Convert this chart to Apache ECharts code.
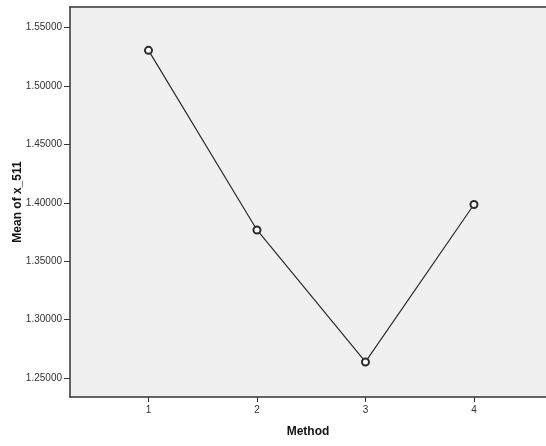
<!DOCTYPE html>
<html>
<head>
<meta charset="utf-8">
<script src="https://cdn.jsdelivr.net/npm/echarts@6/dist/echarts.min.js"></script>
<style>
  html, body { margin: 0; padding: 0; background: #fff; }
  #chart { width: 546px; height: 446px; }
</style>
</head>
<body>
<div id="chart"></div>
<script>
const methods = [1, 2, 3, 4];
const meanValues = [1.5305, 1.3767, 1.2637, 1.3985];
const yTicks = [1.25, 1.30, 1.35, 1.40, 1.45, 1.50, 1.55];

const chart = echarts.init(document.getElementById('chart'));

const axisColor = '#333333';
const labelStyle = { color: '#333', fontSize: 10, fontFamily: 'Liberation Sans, Arial, sans-serif' };
const nameStyle = { fontWeight: 'bold', fontSize: 12, color: '#111', fontFamily: 'Liberation Sans, Arial, sans-serif' };

const option = {
    animation: false,
    backgroundColor: '#ffffff',
    grid: {
        left: 70,
        top: 7,
        right: 0,
        bottom: 49,
        outerBoundsMode: 'none',
        containLabel: false,
        show: true,
        backgroundColor: '#f0f0f0',
        borderWidth: 0
    },
    xAxis: [{
        type: 'value',
        min: 0.2765,
        max: 4.664,
        name: 'Method',
        nameLocation: 'middle',
        nameGap: 29,
        nameMoveOverlap: false,
        nameTextStyle: nameStyle,
        axisLine: { lineStyle: { color: axisColor, width: 1.5 } },
        axisTick: { show: true, length: 5, customValues: methods, lineStyle: { color: axisColor } },
        axisLabel: { ...labelStyle, margin: 8, customValues: methods, formatter: v => String(v) },
        splitLine: { show: false }
    }, {
        // top frame line only
        type: 'value',
        position: 'top',
        min: 0.2765,
        max: 4.664,
        axisLine: { show: true, lineStyle: { color: axisColor, width: 1.5 } },
        axisTick: { show: false },
        axisLabel: { show: false },
        splitLine: { show: false }
    }],
    yAxis: {
        type: 'value',
        min: 1.2337,
        max: 1.5676,
        name: 'Mean of x_511',
        nameLocation: 'middle',
        nameGap: 46,
        nameMoveOverlap: false,
        nameTextStyle: nameStyle,
        axisLine: { show: true, lineStyle: { color: axisColor, width: 1.5 } },
        axisTick: { show: true, length: 6, customValues: yTicks, lineStyle: { color: axisColor } },
        axisLabel: { ...labelStyle, margin: 8, customValues: yTicks, formatter: v => v.toFixed(5) },
        splitLine: { show: false }
    },
    series: [{
        type: 'line',
        data: methods.map((m, i) => [m, meanValues[i]]),
        lineStyle: { color: '#2b2b2b', width: 1.2 },
        symbol: 'emptyCircle',
        symbolSize: 7,
        itemStyle: { color: '#2b2b2b', borderWidth: 1 }
    }]
};

chart.setOption(option);
</script>
</body>
</html>
